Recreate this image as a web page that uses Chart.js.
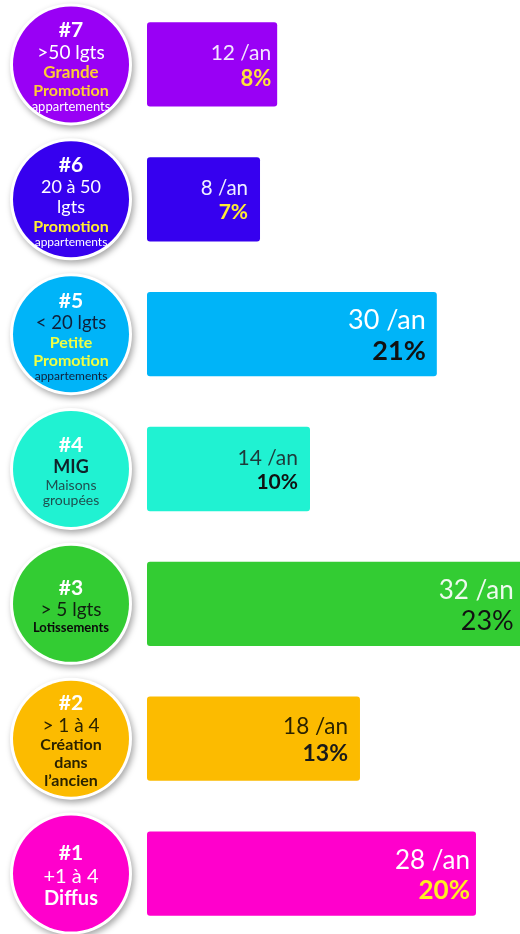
<!DOCTYPE html>
<html lang="fr">
<head>
    <meta charset="UTF-8">
    <title>Production de logements par segment</title>
    <script src="https://cdn.jsdelivr.net/npm/chart.js"></script>
    <style>
        html, body {
            margin: 0;
            padding: 0;
            background: #ffffff;
            overflow: hidden;
        }
        .chart-container {
            position: absolute;
            left: 0;
            top: -3px;
            width: 520px;
            height: 944px;
        }
    </style>
</head>
<body>
    <div class="chart-container">
        <canvas id="segmentChart"></canvas>
    </div>

    <script>
        // Segments, top to bottom
        const categories = ['#7', '#6', '#5', '#4', '#3', '#2', '#1'];
        // Logements par an and share, as printed in the bars
        const perYear = [12, 8, 30, 14, 32, 18, 28];
        const shares = [8, 7, 21, 10, 23, 13, 20];
        // Bar length as drawn, in % of plot width (not proportional to perYear in the source)
        const barLength = [34.9, 30.3, 77.7, 43.7, 101, 57.1, 88.2];
        // Text inside the circles (after the rank line)
        const circleLines = [
            ['>50 lgts', 'Grande', 'Promotion', 'appartements'],
            ['20 à 50', 'lgts', 'Promotion', 'appartements'],
            ['< 20 lgts', 'Petite', 'Promotion', 'appartements'],
            ['MIG', 'Maisons', 'groupées'],
            ['> 5 lgts', 'Lotissements'],
            ['> 1 à 4', 'Création', 'dans', 'l\u2019ancien'],
            ['+1 à 4', 'Diffus']
        ];

        // Styles
        const FONT = 'Lato, "Noto Sans", sans-serif';
        const colors = ['#9900f5', '#3600ef', '#00b4f8', '#20f2d2', '#33cc33', '#fcbb00', '#ff00cc'];

        // circle line styles: [size, bold, color] per line (rank line first)
        const circleStyles = [
            [[21, 1, '#ffffff'], [19, 0, '#ffffff'], [17, 1, '#ffcc33'], [16, 1, '#ffcc33'], [13, 0, '#ffffff']],
            [[21, 1, '#ffffff'], [18, 0, '#ffffff'], [18, 0, '#ffffff'], [16, 1, '#ffee33'], [12, 0, '#ffffff']],
            [[21, 1, '#ffffff'], [18.5, 0, '#10203a'], [16, 1, '#eeff44'], [16, 1, '#eeff44'], [12, 0, '#10203a']],
            [[21, 1, '#ffffff'], [18, 1, '#10222a'], [14, 0, '#1f4f4f'], [14, 0, '#1f4f4f']],
            [[21, 1, '#ffffff'], [19, 0, '#102010'], [13, 1, '#0a0a0a']],
            [[21, 1, '#ffffff'], [19, 0, '#2a2200'], [16, 1, '#2a2200'], [16, 1, '#2a2200'], [16, 1, '#2a2200']],
            [[21, 1, '#ffffff'], [20, 0, '#ffffff'], [20, 1, '#ffffff']]
        ];

        // bar text styles: [size1, color1, size2, color2, bold2, paddingRight]
        const barTextStyles = [
            [21, '#f3e6ff', 22, '#ffe23a', 1, 6],
            [20.5, '#f0f0ff', 21, '#ffee33', 1, 12],
            [27, '#ffffff', 27, '#111111', 1, 11],
            [21, '#1e3b3b', 21, '#111111', 1, 12],
            [26, '#eefaee', 27, '#111111', 0, 10],
            [22.5, '#2b2300', 23, '#1a1a1a', 1, 12],
            [26, '#ffffff', 26, '#ffee22', 1, 6]
        ];

        // Draws the round badges to the left of each bar
        const circlePlugin = {
            id: 'circles',
            afterDatasetsDraw(chart) {
                const ctx = chart.ctx;
                const yScale = chart.scales.y;
                categories.forEach((cat, i) => {
                    const cx = 71;
                    const cy = yScale.getPixelForValue(i);
                    ctx.save();
                    ctx.shadowColor = 'rgba(0,0,0,0.35)';
                    ctx.shadowBlur = 6;
                    ctx.shadowOffsetX = 2;
                    ctx.shadowOffsetY = 3;
                    ctx.beginPath();
                    ctx.arc(cx, cy, 61, 0, Math.PI * 2);
                    ctx.fillStyle = '#ffffff';
                    ctx.fill();
                    ctx.restore();

                    ctx.beginPath();
                    ctx.arc(cx, cy, 58, 0, Math.PI * 2);
                    ctx.fillStyle = colors[i];
                    ctx.fill();

                    const lines = [cat].concat(circleLines[i]);
                    const styles = circleStyles[i];
                    const heights = styles.map(s => s[0] * 1.12);
                    const total = heights.reduce((a, b) => a + b, 0);
                    let y = cy - total / 2 + 2;
                    ctx.save();
                    ctx.textAlign = 'center';
                    ctx.textBaseline = 'middle';
                    lines.forEach((txt, k) => {
                        const s = styles[k];
                        y += heights[k] / 2;
                        ctx.font = (s[1] ? '700 ' : '400 ') + s[0] + 'px ' + FONT;
                        ctx.fillStyle = s[2];
                        ctx.fillText(txt, cx, y);
                        y += heights[k] / 2;
                    });
                    ctx.restore();
                });
            }
        };

        // Writes "n /an" and share inside the bars, right aligned
        const barTextPlugin = {
            id: 'barText',
            afterDatasetsDraw(chart) {
                const ctx = chart.ctx;
                const meta = chart.getDatasetMeta(0);
                meta.data.forEach((bar, i) => {
                    const st = barTextStyles[i];
                    const right = Math.min(bar.x, 524) - st[5];
                    ctx.save();
                    ctx.textAlign = 'right';
                    ctx.textBaseline = 'alphabetic';
                    ctx.font = '400 ' + st[0] + 'px ' + FONT;
                    ctx.fillStyle = st[1];
                    ctx.fillText(perYear[i] + ' /an', right, bar.y - 0.55 * st[0] + 0.36 * st[0]);
                    ctx.font = (st[4] ? '700 ' : '400 ') + st[2] + 'px ' + FONT;
                    ctx.fillStyle = st[3];
                    ctx.fillText(shares[i] + '%', right, bar.y + 0.6 * st[2] + 0.36 * st[2]);
                    ctx.restore();
                });
            }
        };

        new Chart(document.getElementById('segmentChart').getContext('2d'), {
            type: 'bar',
            data: {
                labels: categories,
                datasets: [{
                    data: barLength,
                    backgroundColor: colors,
                    borderWidth: 0,
                    borderRadius: 3,
                    borderSkipped: false,
                    barPercentage: 0.625,
                    categoryPercentage: 1
                }]
            },
            options: {
                indexAxis: 'y',
                responsive: true,
                maintainAspectRatio: false,
                animation: false,
                layout: {
                    padding: { left: 147, right: 0, top: 0, bottom: 0 }
                },
                plugins: {
                    legend: { display: false },
                    tooltip: { enabled: false }
                },
                scales: {
                    x: { display: false, min: 0, max: 100 },
                    y: { display: false }
                }
            },
            plugins: [circlePlugin, barTextPlugin]
        });
    </script>
</body>
</html>
